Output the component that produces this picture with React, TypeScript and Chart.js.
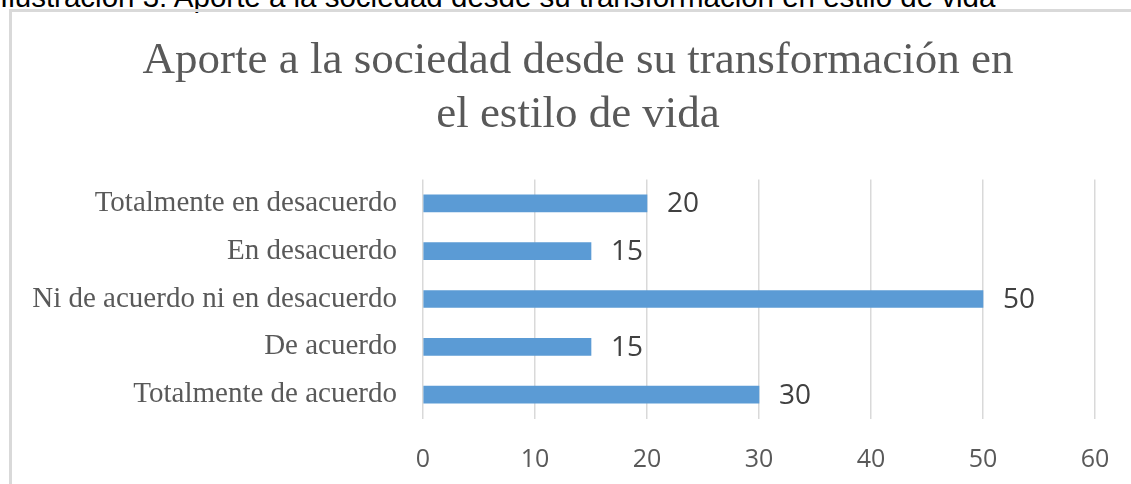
import React, { useEffect, useRef } from "react";
import { Chart, registerables } from "chart.js";

Chart.register(...registerables);

const captionText = "Ilustración 3: Aporte a la sociedad desde su transformación en estilo de vida";
const titleLines = ["Aporte a la sociedad desde su transformación en", "el estilo de vida"];
const categories = [
  "Totalmente en desacuerdo",
  "En desacuerdo",
  "Ni de acuerdo ni en desacuerdo",
  "De acuerdo",
  "Totalmente de acuerdo",
];
const values = [20, 15, 50, 15, 30];
const xMin = 0;
const xMax = 60;
const xStep = 10;

const CANVAS_W = 1156;
const CANVAS_H = 484;

const barLabelPlugin = {
  id: "barLabels",
  afterDatasetsDraw(chart: any) {
    const ctx = chart.ctx;
    const meta = chart.getDatasetMeta(0);
    ctx.save();
    ctx.font = "28px 'Open Sans'";
    ctx.fillStyle = "#404040";
    ctx.textAlign = "left";
    ctx.textBaseline = "middle";
    meta.data.forEach((bar: any, i: number) => {
      ctx.fillText(String(values[i]), bar.x + 20, bar.y + 1);
    });
    ctx.restore();
  },
};

export default function App() {
  const ref = useRef<HTMLCanvasElement>(null);
  useEffect(() => {
    if (!ref.current) return;
    const chart = new Chart(ref.current, {
      type: "bar",
      data: {
        labels: categories,
        datasets: [
          {
            data: values,
            backgroundColor: "#5B9BD5",
            barThickness: 17,
            yAxisID: "y",
            xAxisID: "x",
          },
        ],
      },
      options: {
        indexAxis: "y",
        animation: false,
        responsive: false,
        maintainAspectRatio: false,
        layout: { padding: { left: 0, right: 0, top: 0, bottom: 0 } },
        plugins: {
          legend: { display: false },
          tooltip: { enabled: false },
          title: {
            display: true,
            text: titleLines,
            color: "#595959",
            font: { family: "'Liberation Serif'", size: 45, weight: "normal", lineHeight: 1.2 },
            padding: { top: 34, bottom: 37.5 },
          },
        },
        scales: {
          x: {
            min: xMin,
            max: xMax,
            ticks: {
              stepSize: xStep,
              color: "#595959",
              font: { family: "'Open Sans'", size: 25 },
              padding: 26,
            },
            grid: { color: "#d9d9d9", lineWidth: 1.5, drawTicks: false },
            border: { display: false },
            afterFit(scale: any) {
              scale.height = 65.5;
            },
          },
          y: {
            ticks: {
              color: "#595959",
              font: { family: "'Liberation Serif'", size: 29 },
              padding: 26,
            },
            grid: { display: false, drawTicks: false },
            border: { display: false },
            afterFit(scale: any) {
              scale.width = 423;
            },
          },
          yRight: {
            type: "linear",
            axis: "y",
            position: "right",
            display: true,
            ticks: { display: false },
            grid: { display: false, drawTicks: false },
            border: { display: false },
            afterFit(scale: any) {
              scale.width = CANVAS_W - 1095;
            },
          },
        },
      },
      plugins: [barLabelPlugin],
    });
    return () => chart.destroy();
  }, []);

  return (
    <div style={{ position: "absolute", left: 0, top: 0, width: 1131, height: 484, overflow: "hidden", background: "#fff" }}>
      <div
        style={{
          position: "absolute",
          left: 0,
          top: -18,
          fontFamily: "'Liberation Sans', Arial, sans-serif",
          fontSize: 29.5,
          lineHeight: "29.5px",
          color: "#000",
          whiteSpace: "nowrap",
        }}
      >
        {captionText}
      </div>
      <div
        style={{
          position: "absolute",
          left: 9,
          top: 9,
          width: 1300,
          height: 600,
          borderLeft: "3px solid #d9d9d9",
          borderTop: "3px solid #d9d9d9",
        }}
      />
      <canvas
        ref={ref}
        width={CANVAS_W}
        height={CANVAS_H}
        style={{ position: "absolute", left: 0, top: 0, width: CANVAS_W, height: CANVAS_H }}
      />
    </div>
  );
}
